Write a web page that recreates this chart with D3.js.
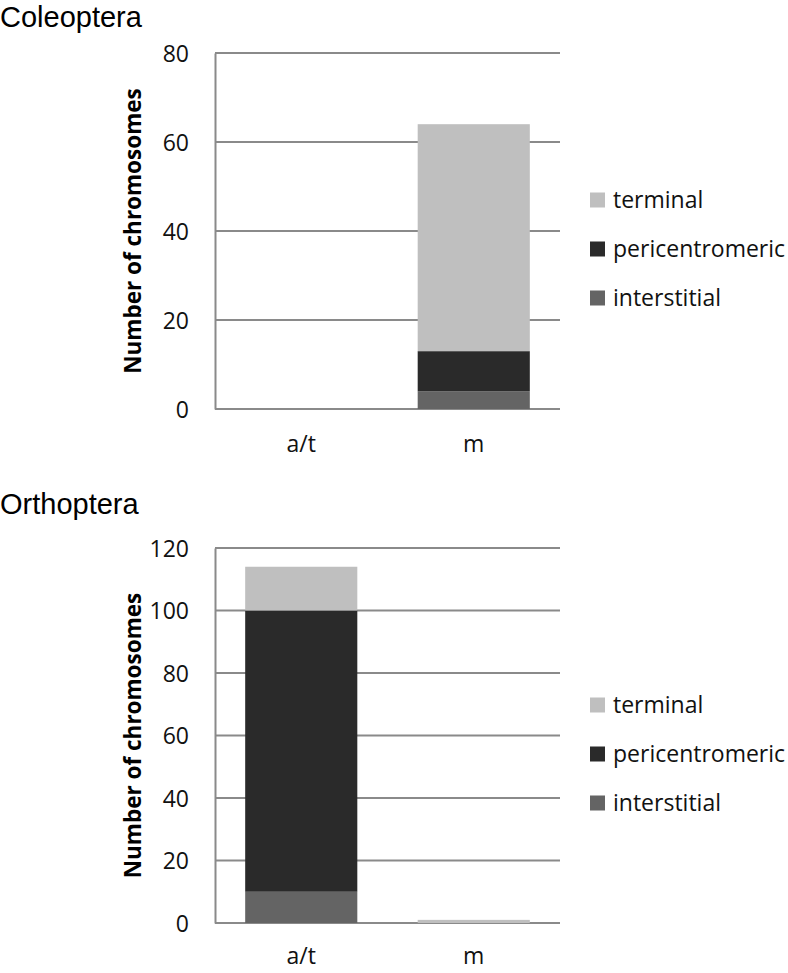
<!DOCTYPE html>
<html lang="en">
    <head>
        <meta charset="utf-8">
        <title>Chromosome counts by position</title>
        <script src="https://d3js.org/d3.v7.min.js"></script>
        <style type="text/css">
            body{
                margin: 0;
                background: white;
            }
            svg{
                display: block;
            }
            .tick text{
                font-family: "Open Sans", sans-serif;
                font-size: 23px;
                fill: #111;
            }
        </style>
    </head>
    <body>
        <svg width="788" height="973"></svg>
        <script type="text/javascript">

            // data
            const categories = ["a/t", "m"];
            const seriesNames = ["interstitial", "pericentromeric", "terminal"];
            const legendOrder = ["terminal", "pericentromeric", "interstitial"];

            const coleopteraInterstitial = [0, 4];
            const coleopteraPericentromeric = [0, 9];
            const coleopteraTerminal = [0, 51];
            const coleopteraTicks = [0, 20, 40, 60, 80];

            const orthopteraInterstitial = [10, 0];
            const orthopteraPericentromeric = [90, 0];
            const orthopteraTerminal = [14, 1];
            const orthopteraTicks = [0, 20, 40, 60, 80, 100, 120];

            const colors = {
                terminal: "#bfbfbf",
                pericentromeric: "#2a2a2a",
                interstitial: "#646464"
            };
            const gridColor = "#8a8a8a";

            const svg = d3.select("svg");

            function buildRows(inter, peri, term){
                return categories.map((c, i) => ({
                    category: c,
                    interstitial: inter[i],
                    pericentromeric: peri[i],
                    terminal: term[i]
                }));
            }

            const panels = [
                {
                    title: "Coleoptera",
                    titleY: 27,
                    rows: buildRows(coleopteraInterstitial, coleopteraPericentromeric, coleopteraTerminal),
                    ticks: coleopteraTicks,
                    yBottom: 409,
                    yTop: 53,
                    catY: 452,
                    legendY: 200
                },
                {
                    title: "Orthoptera",
                    titleY: 514,
                    rows: buildRows(orthopteraInterstitial, orthopteraPericentromeric, orthopteraTerminal),
                    ticks: orthopteraTicks,
                    yBottom: 923,
                    yTop: 548,
                    catY: 964,
                    legendY: 705
                }
            ];

            const left = 215;
            const right = 560;

            const stack = d3.stack().keys(seriesNames);

            panels.forEach(p => {

                const g = svg.append("g");

                const x = d3.scaleBand()
                    .domain(categories)
                    .range([left, right])
                    .paddingInner(0.35)
                    .paddingOuter(0.175);

                const y = d3.scaleLinear()
                    .domain([0, d3.max(p.ticks)])
                    .range([p.yBottom, p.yTop]);

                // gridlines
                g.selectAll("line.grid")
                    .data(p.ticks)
                    .join("line")
                    .attr("class", "grid")
                    .attr("x1", left)
                    .attr("x2", right)
                    .attr("y1", d => y(d))
                    .attr("y2", d => y(d))
                    .attr("stroke", gridColor)
                    .attr("stroke-width", 2);

                // bars
                const layers = stack(p.rows);
                g.selectAll("g.layer")
                    .data(layers)
                    .join("g")
                    .attr("class", "layer")
                    .attr("fill", d => colors[d.key])
                    .selectAll("rect")
                    .data(d => d)
                    .join("rect")
                    .attr("x", d => x(d.data.category))
                    .attr("y", d => y(d[1]))
                    .attr("width", x.bandwidth())
                    .attr("height", d => y(d[0]) - y(d[1]));

                // left axis
                const yAxis = g.append("g")
                    .attr("transform", "translate(" + left + ",0)")
                    .call(d3.axisLeft(y).tickValues(p.ticks).tickSize(0).tickPadding(26));
                yAxis.select(".domain")
                    .attr("stroke", gridColor)
                    .attr("stroke-width", 2);
                yAxis.selectAll(".tick text").attr("dy", "0.36em");

                // category labels
                g.selectAll("text.cat")
                    .data(categories)
                    .join("text")
                    .attr("class", "cat")
                    .attr("x", d => x(d) + x.bandwidth() / 2)
                    .attr("y", p.catY)
                    .attr("text-anchor", "middle")
                    .attr("font-family", "Open Sans, sans-serif")
                    .attr("font-size", "23px")
                    .attr("fill", "#111")
                    .text(d => d);

                // y title
                g.append("text")
                    .attr("transform", "translate(141," + ((p.yTop + p.yBottom) / 2) + ") rotate(-90)")
                    .attr("text-anchor", "middle")
                    .attr("font-family", "Open Sans, sans-serif")
                    .attr("font-weight", "bold")
                    .attr("font-size", "22.5px")
                    .attr("fill", "#000")
                    .text("Number of chromosomes");

                // panel title
                g.append("text")
                    .attr("x", 0)
                    .attr("y", p.titleY)
                    .attr("font-family", "Liberation Sans, Arial, sans-serif")
                    .attr("font-size", "29px")
                    .attr("fill", "#000")
                    .text(p.title);

                // legend
                const lg = g.selectAll("g.legend")
                    .data(legendOrder)
                    .join("g")
                    .attr("class", "legend")
                    .attr("transform", (d, i) => "translate(590," + (p.legendY + i * 49) + ")");
                lg.append("rect")
                    .attr("x", 0)
                    .attr("y", -7.5)
                    .attr("width", 15)
                    .attr("height", 15)
                    .attr("fill", d => colors[d]);
                lg.append("text")
                    .attr("x", 23)
                    .attr("y", 0)
                    .attr("dy", "0.36em")
                    .attr("font-family", "Open Sans, sans-serif")
                    .attr("font-size", "23px")
                    .attr("fill", "#111")
                    .text(d => d);
            });

        </script>
    </body>
</html>
